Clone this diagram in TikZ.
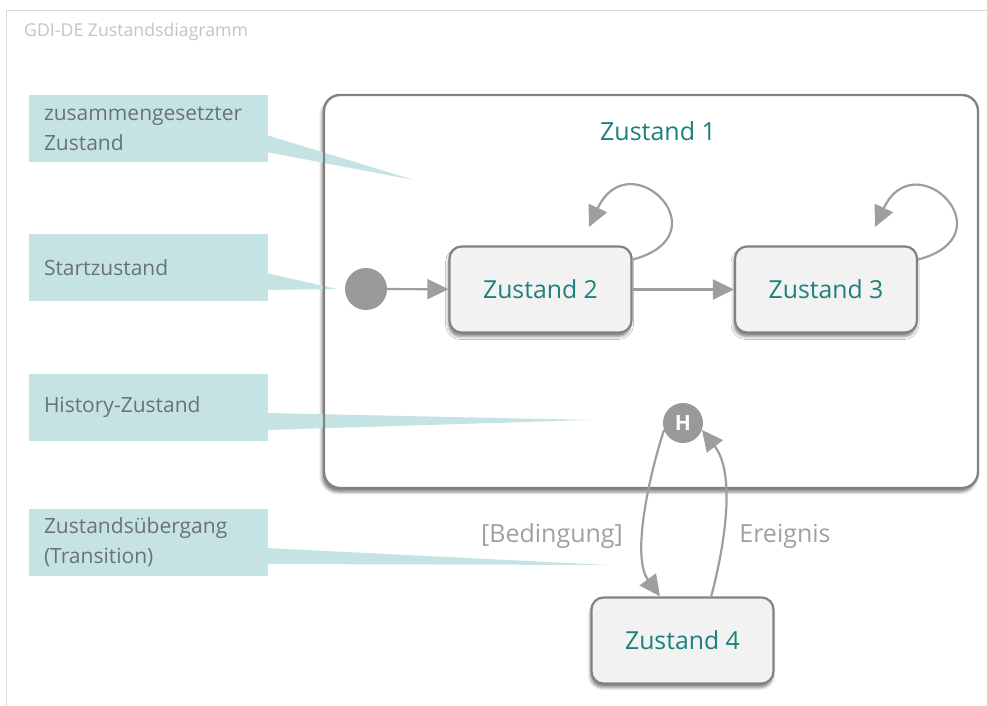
\documentclass[tikz,border=0pt]{standalone}
\usepackage{fontspec}
\setmainfont{Open Sans}
\usetikzlibrary{arrows.meta,calc,shadows.blur}
\definecolor{calloutfill}{RGB}{198,227,228}
\definecolor{callouttext}{RGB}{105,115,115}
\definecolor{tealtext}{RGB}{28,128,124}
\definecolor{statefill}{RGB}{242,242,242}
\definecolor{stateborder}{RGB}{130,130,130}
\definecolor{conn}{RGB}{158,158,158}
\definecolor{dotgray}{RGB}{153,153,153}
\definecolor{lblgray}{RGB}{160,160,160}
\definecolor{titlegray}{RGB}{196,196,196}
\definecolor{framegray}{RGB}{218,218,218}
\begin{document}
\begin{tikzpicture}[x=1pt,y=1pt,
  callout/.style={fill=calloutfill, text=callouttext, minimum width=239pt, minimum height=67pt,
    text width=209pt, inner xsep=15pt, inner ysep=0pt, align=left,
    font=\fontsize{21}{30}\selectfont},
  pointer/.style={fill=calloutfill},
  statebox/.style={draw=stateborder, line width=2.2pt, fill=statefill, rounded corners=12pt,
    minimum width=182pt, minimum height=86pt, text=tealtext, font=\fontsize{24.8}{28}\selectfont,
    blur shadow={shadow xshift=-1pt, shadow yshift=-4pt, shadow blur radius=3pt, shadow opacity=50}},
  bigbox/.style={fill=white, rounded corners=16pt, minimum width=654pt, minimum height=393pt,
    outer sep=0pt, inner sep=0pt,
    blur shadow={shadow xshift=-2pt, shadow yshift=-4pt, shadow blur radius=3pt, shadow opacity=50}},
  bigborder/.style={draw=stateborder, line width=2.4pt, rounded corners=16pt},
  arr/.style={draw=conn, line width=2.2pt, -{Triangle[length=21pt,width=20pt]}},
  dot/.style={circle, fill=dotgray, inner sep=0pt},
  lbl/.style={text=lblgray, font=\fontsize{25}{28}\selectfont},
  framel/.style={draw=framegray, line width=1pt}
]
\useasboundingbox (0,0) rectangle (987,-706);
% outer frame
\coordinate (fa) at (6,-706);
\coordinate (fb) at (6,-10.5);
\coordinate (fc) at (987,-10.5);
\draw[framel] (fa) -- (fb) -- (fc);
\node[anchor=west, text=titlegray, font=\fontsize{17.7}{20}\selectfont, inner sep=0pt] (title) at (24,-32) {GDI-DE Zustandsdiagramm};

% composite state (fill + shadow)
\node[bigbox] (z1) at (651,-291.5) {};

% callouts
\node[callout] (c1) at (148.5,-128.5) {zusammengesetzter\\Zustand};
\node[callout] (c2) at (148.5,-267.5) {Startzustand};
\node[callout] (c3) at (148.5,-407) {History-Zustand};
\node[callout] (c4) at (148.5,-542) {Zustandsübergang\\(Transition)};
\coordinate (t1) at (414,-180);
\coordinate (t2) at (337,-289);
\coordinate (t3) at (590,-420);
\coordinate (t4) at (608,-565);
\fill[pointer] ($(c1.east)+(-2,-6.5)$) -- (t1) -- ($(c1.east)+(-2,-23.5)$) -- cycle;
\fill[pointer] ($(c2.east)+(-2,-5.5)$) -- (t2) -- ($(c2.east)+(-2,-22.5)$) -- cycle;
\fill[pointer] ($(c3.east)+(-2,-6)$) -- (t3) -- ($(c3.east)+(-2,-23)$) -- cycle;
\fill[pointer] ($(c4.east)+(-2,-6)$) -- (t4) -- ($(c4.east)+(-2,-22)$) -- cycle;

% composite state border
\draw[bigborder] (z1.south west) rectangle (z1.north east);
\node[text=tealtext, font=\fontsize{25}{28}\selectfont] (z1t) at (658,-131) {Zustand 1};

% states
\node[dot, minimum size=42pt] (init) at (366,-289) {};
\node[statebox] (z2) at (540.5,-289.5) {Zustand 2};
\node[statebox] (z3) at (826,-289.5) {Zustand 3};
\node[statebox] (z4) at (682.5,-640.5) {Zustand 4};
\node[dot, minimum size=40pt, text=white, font=\fontsize{21}{22}\selectfont\bfseries] (h) at (683,-423) {H};

% connectors
\draw[arr] (init) -- (z2);
\draw[arr] (z2) -- (z3);
\coordinate (l2) at (589,-227);
\coordinate (l3) at (875,-227);
\draw[arr] (z2.18) to[out=15,in=65,looseness=4.5] (l2);
\draw[arr] (z3.18) to[out=15,in=65,looseness=4.5] (l3);
\draw[arr] (h.200) to[out=252,in=126,looseness=0.75] (z4.117);
\draw[arr] (z4.57) to[out=75,in=308,looseness=0.84] (h.-20);

\node[lbl] (bed) at (552,-536) {[Bedingung]};
\node[lbl] (ere) at (785,-536) {Ereignis};
\end{tikzpicture}
\end{document}
